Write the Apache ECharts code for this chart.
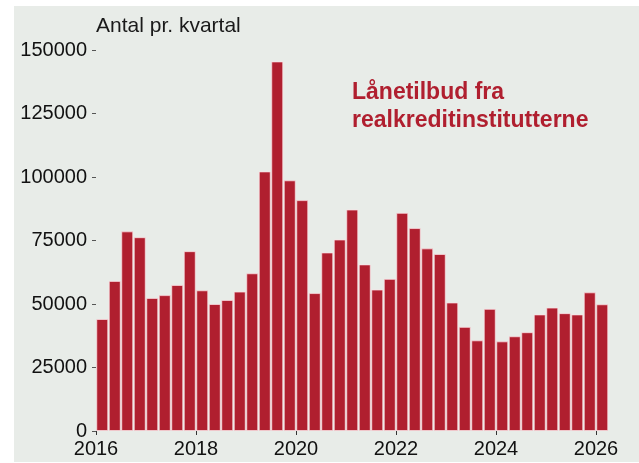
<!DOCTYPE html>
<html>
<head>
<meta charset="utf-8">
<script src="https://cdn.jsdelivr.net/npm/echarts@6/dist/echarts.min.js"></script>
<style>
  html, body { margin: 0; padding: 0; background: #ffffff; }
  #chart { width: 639px; height: 463px; }
</style>
</head>
<body>
<div id="chart"></div>
<script>
// kvartaler 2016K1 - 2026K1
const quarters = [
  '2016K1', '2016K2', '2016K3', '2016K4',
  '2017K1', '2017K2', '2017K3', '2017K4',
  '2018K1', '2018K2', '2018K3', '2018K4',
  '2019K1', '2019K2', '2019K3', '2019K4',
  '2020K1', '2020K2', '2020K3', '2020K4',
  '2021K1', '2021K2', '2021K3', '2021K4',
  '2022K1', '2022K2', '2022K3', '2022K4',
  '2023K1', '2023K2', '2023K3', '2023K4',
  '2024K1', '2024K2', '2024K3', '2024K4',
  '2025K1', '2025K2', '2025K3', '2025K4',
  '2026K1'
];
const loanOffers = [
  44100, 59100, 78600, 76300,
  52400, 53500, 57500, 70800,
  55400, 50000, 51600, 54900,
  62100, 102200, 145500, 98700,
  90900, 54300, 70300, 75400,
  87200, 65600, 55700, 59900,
  85900, 79900, 71900, 69700,
  50600, 41000, 35700, 48100,
  35300, 37300, 38900, 45900,
  48600, 46400, 45900, 54600,
  49900
];
const yearTicks = [2016, 2018, 2020, 2022, 2024, 2026];
const yTicks = [0, 25000, 50000, 75000, 100000, 125000, 150000];

// placer hver søjle midt i sit kvartal på en tidsakse i år
const barData = quarters.map((q, i) => {
  const year = Number(q.slice(0, 4));
  const k = Number(q.slice(5));
  return [year + (k - 1) * 0.25 + 0.125, loanOffers[i]];
});

const chart = echarts.init(document.getElementById('chart'));
const option = {
  backgroundColor: '#ffffff',
  animation: false,
  textStyle: { fontFamily: 'Liberation Sans, Arial, sans-serif' },
  graphic: [{
    type: 'rect',
    z: -10,
    silent: true,
    shape: { x: 14, y: 6, width: 625, height: 456 },
    style: { fill: '#e8ece8' }
  }],
  title: [{
    text: 'Antal pr. kvartal',
    left: 91,
    top: 11,
    textStyle: { fontSize: 21, fontWeight: 'normal', color: '#1a1a1a' }
  }, {
    text: 'Lånetilbud fra\nrealkreditinstitutterne',
    left: 347,
    top: 74,
    textStyle: { fontSize: 23, fontWeight: 'bold', color: '#b01f2f', lineHeight: 28 }
  }],
  grid: { left: 96, right: 18, top: 50, bottom: 32 },
  xAxis: {
    type: 'value',
    min: 2016,
    max: 2026.5,
    axisLine: { show: false },
    splitLine: { show: false },
    axisTick: { show: true, length: 4, lineStyle: { color: '#333' }, customValues: yearTicks },
    axisLabel: {
      customValues: yearTicks,
      fontSize: 20,
      color: '#111',
      margin: 8,
      formatter: v => String(v)
    }
  },
  yAxis: {
    type: 'value',
    min: 0,
    max: 150000,
    interval: 25000,
    axisLine: { show: false },
    splitLine: { show: false },
    axisTick: { show: true, length: 4, lineStyle: { color: '#555' }, customValues: yTicks },
    axisLabel: { customValues: yTicks, fontSize: 20, color: '#111', margin: 9, formatter: v => String(v) }
  },
  series: [{
    type: 'bar',
    data: barData,
    barWidth: 12,
    itemStyle: {
      color: '#b01f2f',
      borderColor: 'rgba(255,225,230,0.7)',
      borderWidth: 1
    }
  }]
};
chart.setOption(option);
</script>
</body>
</html>
